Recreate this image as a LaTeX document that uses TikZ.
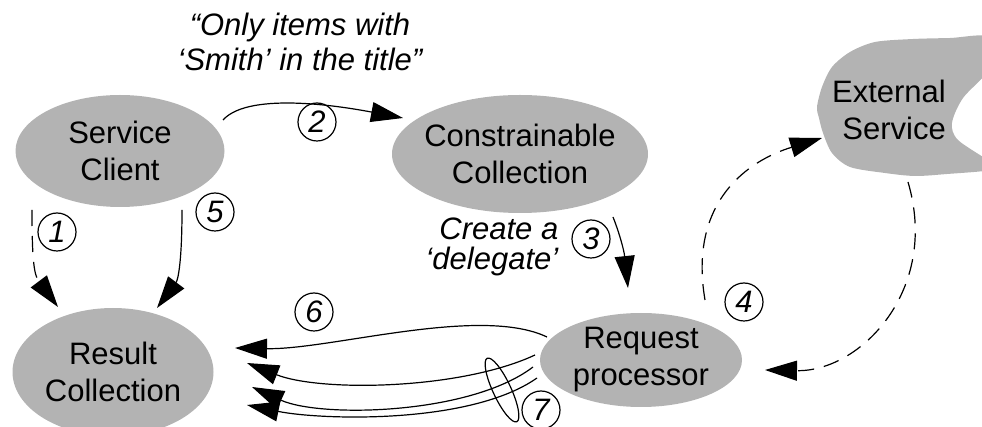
\documentclass[tikz,border=0pt]{standalone}
\usepackage{fontspec}
\setmainfont{Liberation Sans}
\usetikzlibrary{positioning, shapes.geometric, arrows.meta}
\definecolor{blobgray}{RGB}{179,179,179}
\tikzset{
  every node/.style={text=black, font=\fontsize{15.5}{18.5}\selectfont},
  blob/.style={ellipse, fill=blobgray, align=center, inner sep=-12pt},
  numlabel/.style={circle, draw=black, line width=0.6pt, minimum size=19pt, inner sep=0pt, font=\itshape\fontsize{15.5}{18.5}\selectfont},
  remark/.style={align=center, font=\itshape\fontsize{15.5}{17.5}\selectfont},
  flow/.style={draw=black, line width=0.6pt, -{Triangle[length=16pt, width=10pt]}},
  dashflow/.style={flow, dash pattern=on 8pt off 5pt}
}

\begin{document}
\begin{tikzpicture}[x=0.5pt, y=-0.5pt]
  \useasboundingbox (0,0) rectangle (982,427);
  % Nodes
  \node (client) [blob, minimum width=104.5pt, minimum height=56pt] at (120,151) {Service\\Client};
  \node (constr) [blob, minimum width=128pt, minimum height=59pt] at (520,154) {Constrainable\\Collection};
  \node (result) [blob, minimum width=100.5pt, minimum height=64pt] at (113,372) {Result\\Collection};
  \node (proc) [blob, minimum width=101pt, minimum height=47pt] at (641,360) {Request\\processor};
  \fill[blobgray] plot[smooth cycle] coordinates {(817,107) (822,87) (832,67) (850,52) (875,42) (913,39) (950,38) (990,37) (990,68) (963,98) (952,123) (958,140) (990,162) (990,170) (947,174) (915,176) (885,173) (850,167) (832,153) (823,133) (819,118)};
  \node (ext) [align=right] at (889,110) {External\\Service};

  % Labels
  \node (ask) [remark] at (300,42) {“Only items with\\‘Smith’ in the title”};
  \node (n1) [numlabel] at (57,232) {1};
  \node (n2) [numlabel] at (317,122) {2};
  \node (n3) [numlabel] at (591,239) {3};
  \node (n4) [numlabel] at (744,302) {4};
  \node (n5) [numlabel] at (215,212) {5};
  \node (n6) [numlabel] at (314,312) {6};
  \node (n7) [numlabel] at (541,410) {7};
  \node (delegate) [remark, align=right, left=3pt of n3, yshift=-4pt, font=\itshape\fontsize{15.5}{15}\selectfont] {Create a\\‘delegate’};
  \node (ring) [ellipse, draw=black, line width=0.6pt, rotate=-65, minimum width=35pt, minimum height=9pt, inner sep=0pt] at (502,390) {};

  % Connectors
  \draw[dashflow] ([shift={(-88,59)}]client.center) .. controls +(0,50) and +(-24,-32) .. ([shift={(-55,-65)}]result.center);
  \draw[flow] ([shift={(62,59)}]client.center) .. controls +(0,52) and +(21,-28) .. ([shift={(44,-64)}]result.center);
  \draw[flow] ([shift={(103,-31)}]client.center) .. controls +(27,-30) and +(-53,-10) .. ([shift={(-117,-36)}]constr.center);
  \draw[flow] ([shift={(93,63)}]constr.center) .. controls +(6,15) and +(-4,-38) .. ([shift={(-13,-72)}]proc.center);
  \draw[dashflow] ([shift={(64,-60)}]proc.center) .. controls +(-17,-100) and +(-72,22) .. ([shift={(-67,28)}]ext.center);
  \draw[dashflow] ([shift={(19,72)}]ext.center) .. controls +(32,108) and +(95,2) .. ([shift={(124,10)}]proc.center);
  \draw[flow] ([shift={(-94,-23)}]proc.center) .. controls +(-67,-32) and +(95,2) .. ([shift={(122,-24)}]result.center);
  \draw[flow] ([shift={(-106,-5)}]proc.center) .. controls +(-75,35) and +(73,29) .. ([shift={(134,-9)}]result.center);
  \draw[flow] ([shift={(-108,7)}]proc.center) .. controls +(-63,48) and +(68,31) .. ([shift={(139,15)}]result.center);
  \draw[flow] ([shift={(-104,18)}]proc.center) .. controls +(-67,47) and +(73,15) .. ([shift={(134,33)}]result.center);
\end{tikzpicture}
\end{document}
